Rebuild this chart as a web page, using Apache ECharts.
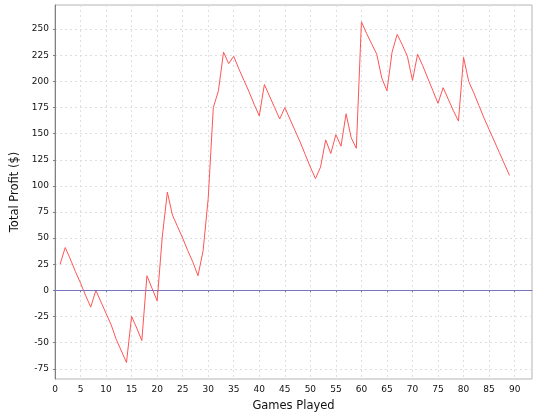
<!DOCTYPE html>
<html>
<head>
<meta charset="utf-8">
<script src="https://cdn.jsdelivr.net/npm/echarts@6/dist/echarts.min.js"></script>
<style>
html,body{margin:0;padding:0;background:#fff;}
#chart{width:540px;height:420px;}
</style>
</head>
<body>
<div id="chart"></div>
<script>
// Total profit after each game (games 1..89)
var profit = [
  25, 41, 30, 18, 7, -5, -16, 0, -11, -22,
  -33, -47, -58, -69, -25, -36, -48, 14, 2, -10,
  51, 94, 72, 61, 50, 38, 27, 14, 38, 88,
  175, 191, 228, 217, 224, 212, 201, 190, 178, 167,
  197, 186, 175, 164, 175, 164, 153, 142, 130, 118,
  107, 118, 144, 131, 149, 138, 169, 146, 136, 257,
  246, 236, 226, 203, 191, 228, 245, 235, 224, 201,
  226, 215, 203, 191, 179, 194, 183, 172, 162, 223,
  200, 189, 177, 165, 154, 143, 132, 121, 110
];
var xTicks = [0, 5, 10, 15, 20, 25, 30, 35, 40, 45, 50, 55, 60, 65, 70, 75, 80, 85, 90];
var yTicks = [-75, -50, -25, 0, 25, 50, 75, 100, 125, 150, 175, 200, 225, 250];
var xTitle = 'Games Played';
var yTitle = 'Total Profit ($)';

var points = profit.map(function (v, i) { return [i + 1, v]; });

var chart = echarts.init(document.getElementById('chart'), null, {renderer: 'canvas'});
var tickFont = {fontFamily: 'DejaVu Sans', fontSize: 9, color: '#111'};
var gridLine = {show: true, lineStyle: {color: '#dedede', type: [2, 3], width: 1}};
chart.setOption({
  animation: false,
  backgroundColor: '#ffffff',
  grid: {left: 55, right: 8, top: 5, bottom: 41, show: true, borderColor: '#b4b4b4', borderWidth: 1, backgroundColor: '#ffffff'},
  xAxis: {
    type: 'value', min: 0, max: 93.4,
    name: xTitle, nameLocation: 'middle', nameGap: 21,
    nameTextStyle: {fontFamily: 'DejaVu Sans', fontSize: 11.5, color: '#111'},
    axisLine: {show: true, lineStyle: {color: '#808080'}},
    axisTick: {show: true, length: 2, customValues: xTicks, lineStyle: {color: '#808080'}},
    axisLabel: Object.assign({margin: 6, customValues: xTicks}, tickFont),
    splitLine: gridLine
  },
  yAxis: {
    type: 'value', min: -84.8, max: 273.1,
    name: yTitle, nameLocation: 'middle', nameGap: 22,
    nameTextStyle: {fontFamily: 'DejaVu Sans', fontSize: 11.5, color: '#111'},
    axisLine: {show: true, lineStyle: {color: '#808080'}},
    axisTick: {show: true, length: 2, customValues: yTicks, lineStyle: {color: '#808080'}},
    axisLabel: Object.assign({margin: 6, customValues: yTicks}, tickFont),
    splitLine: gridLine
  },
  series: [{
    type: 'line',
    data: points,
    showSymbol: false,
    symbol: 'none',
    lineStyle: {color: '#ff5555', width: 1},
    itemStyle: {color: '#ff5555'},
    markLine: {
      silent: true,
      symbol: 'none',
      label: {show: false},
      lineStyle: {color: '#6a6aff', type: [2, 2], width: 1},
      data: [{yAxis: 0}]
    }
  }]
});
</script>
</body>
</html>
